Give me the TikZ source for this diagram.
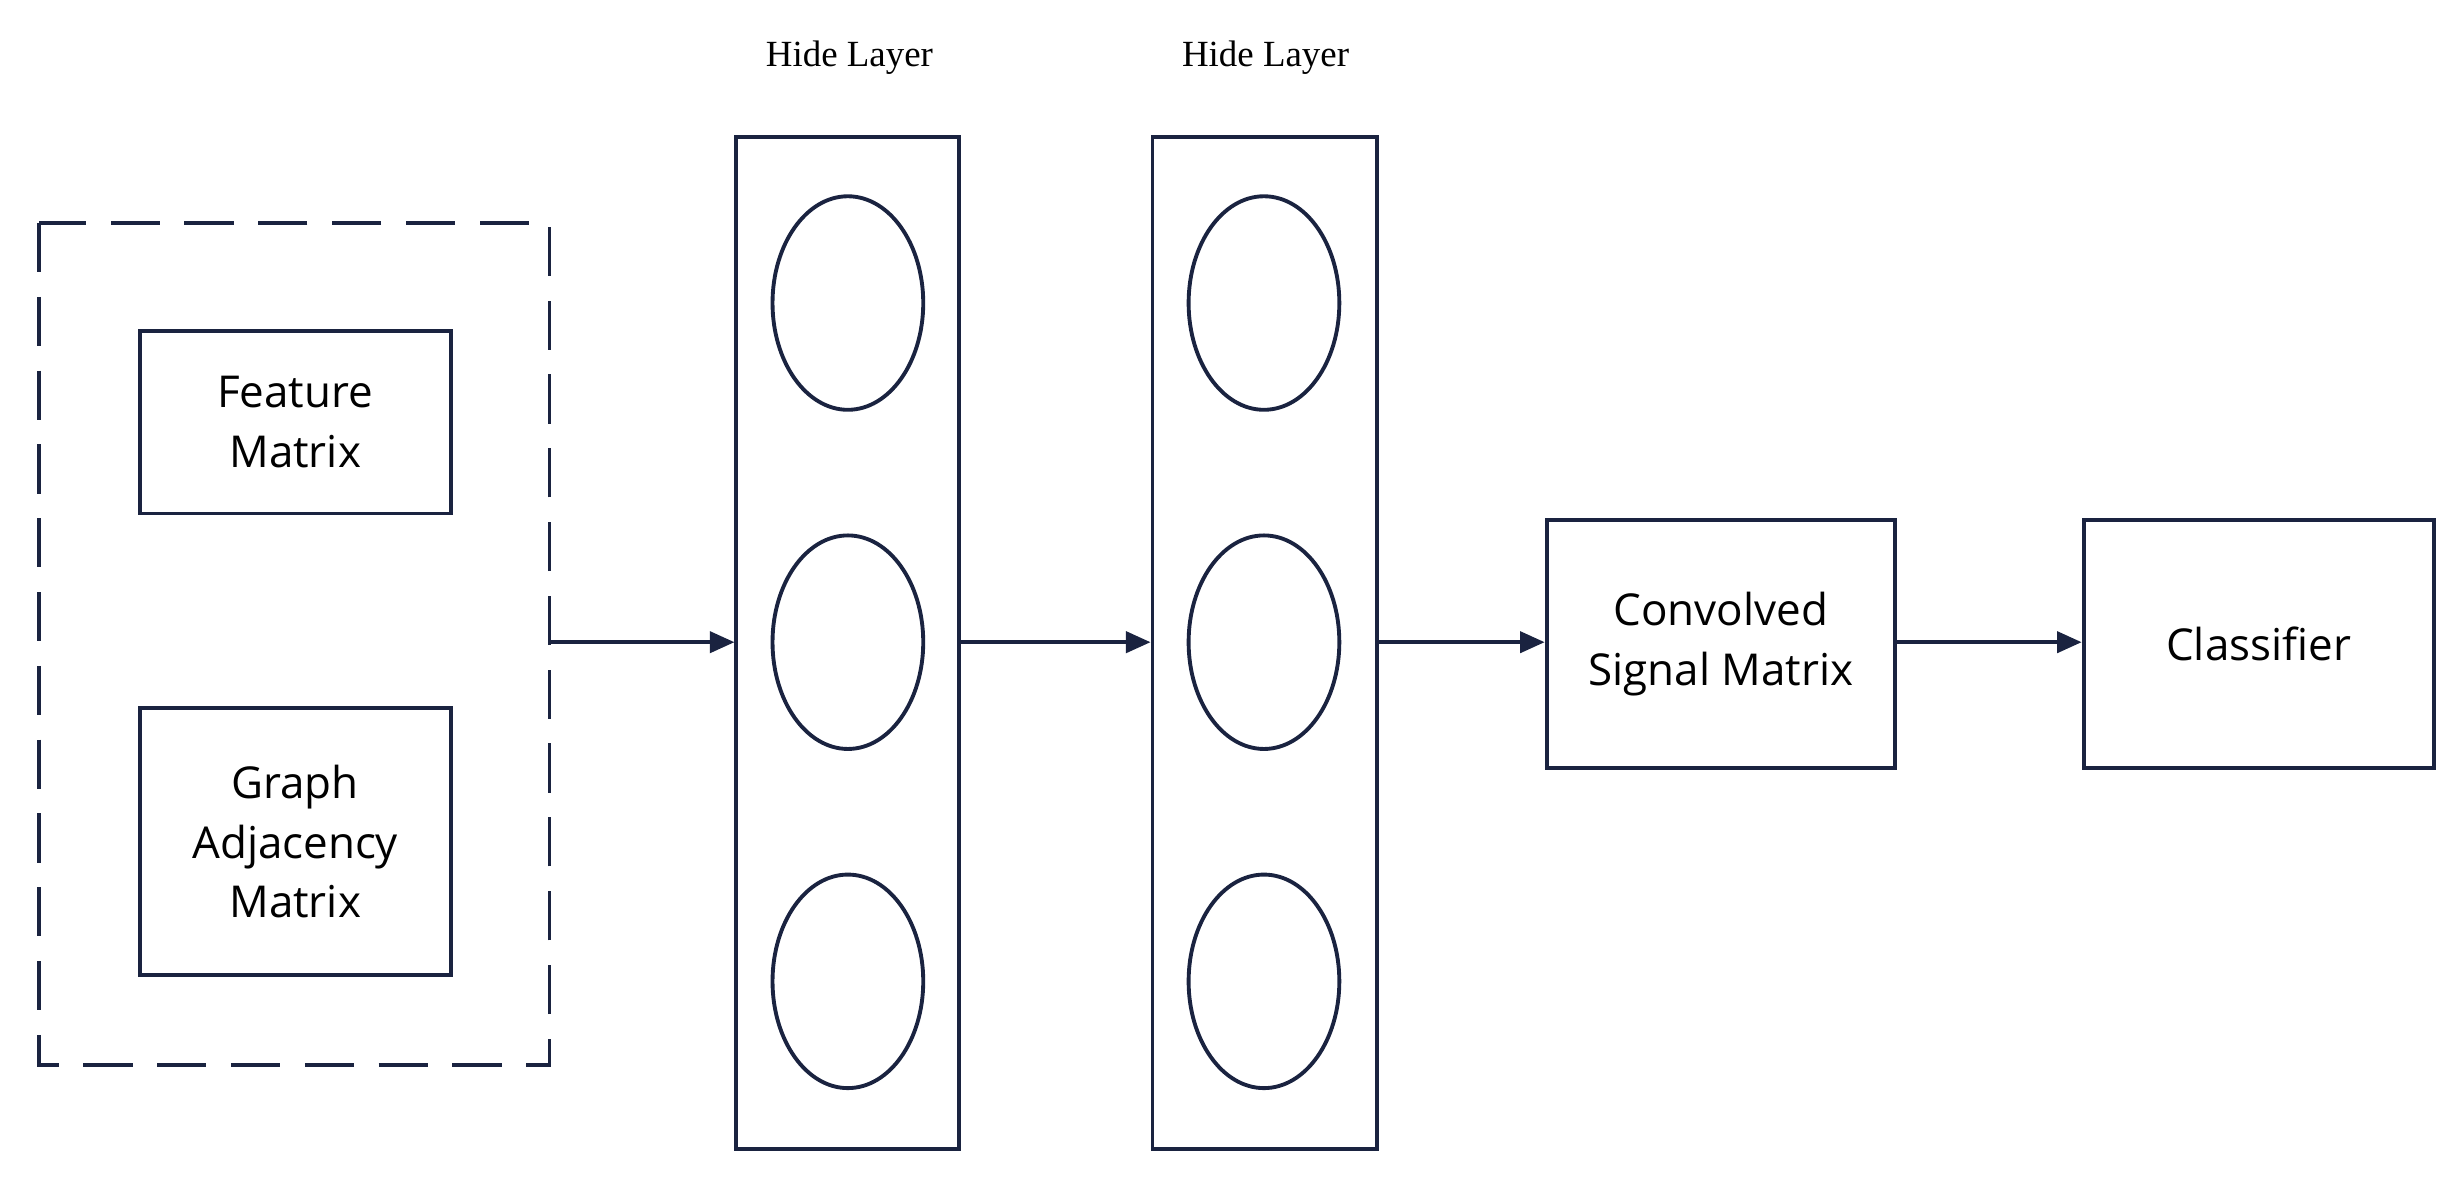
\documentclass[tikz,border=0pt]{standalone}
\usepackage{fontspec}
\setmainfont{Open Sans}
\newfontfamily\serifhl{Liberation Serif}
\usetikzlibrary{arrows.meta}
\definecolor{ln}{HTML}{1A2340}
\begin{document}
\begin{tikzpicture}[x=0.0157cm,y=-0.0157cm,
  box/.style={draw=ln,line width=1.1pt,inner sep=0pt},
  lbl/.style={align=center,font=\fontsize{12.5}{17}\selectfont},
  hl/.style={font=\serifhl\fontsize{10.5}{12}\selectfont},
  neuron/.style={draw=ln,line width=1.1pt,ellipse,minimum width=96\pgflinewidth},
  arr/.style={draw=ln,line width=1.1pt,-{Triangle[length=7pt,width=6pt]}}]
\useasboundingbox (0,0) rectangle (1568,751);
\draw[box,dashed,dash pattern=on 14pt off 7pt] (25,142) rectangle (350,678);
\node[box,minimum width=198*0.0157cm,minimum height=116*0.0157cm,lbl] (fm) at (188,269) {Feature\\Matrix};
\node[box,minimum width=198*0.0157cm,minimum height=170*0.0157cm,lbl] (ga) at (188,536) {Graph\\Adjacency\\Matrix};
\coordinate (din) at (350,409);
\node[box,minimum width=142*0.0157cm,minimum height=645*0.0157cm] (h1) at (540,409.5) {};
\node[box,minimum width=143*0.0157cm,minimum height=645*0.0157cm] (h2) at (805.5,409.5) {};
\node[hl] (t1) at (541,37) {Hide Layer};
\node[hl] (t2) at (806,37) {Hide Layer};
\foreach \c/\n in {540/a,805/b}{
  \foreach \y/\m in {193/1,409/2,625/3}{
    \draw[ln,line width=1.1pt] (\c,\y) ellipse [x radius=48, y radius=68];
  }
}
\node[box,minimum width=222*0.0157cm,minimum height=158*0.0157cm,lbl] (cv) at (1096,410) {Convolved\\Signal Matrix};
\node[box,minimum width=223*0.0157cm,minimum height=158*0.0157cm,lbl] (cl) at (1438.5,410) {Classifier};
\draw[arr] (din) -- (h1.west |- din);
\draw[arr] (h1.east |- din) -- (h2.west |- din);
\draw[arr] (h2.east |- din) -- (cv.west |- din);
\draw[arr] (cv.east |- din) -- (cl.west |- din);
\end{tikzpicture}
\end{document}
